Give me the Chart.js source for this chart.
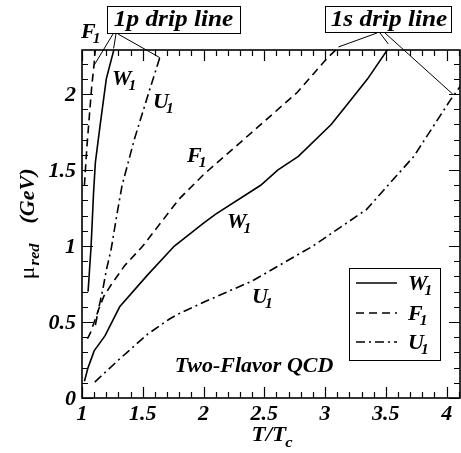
<!DOCTYPE html>
<html>
<head>
<meta charset="utf-8">
<style>
  body { margin: 0; background: #fff; }
  .plot-wrap { width: 461px; height: 453px; }
</style>
</head>
<body>
<div class="plot-wrap"><canvas id="mu-red" width="461" height="453"></canvas></div>

<script src="https://cdn.jsdelivr.net/npm/chart.js@4.4.0/dist/chart.umd.min.js"></script>
<script>
// mu_red (GeV) vs T/Tc, each channel has a low branch and a steep branch near Tc
var w1T      = [1.02, 1.05, 1.10, 1.19, 1.31, 1.54, 1.76, 2.00, 2.10, 2.47, 2.61, 2.78, 3.05, 3.20, 3.35, 3.52];
var w1Mu     = [0.11, 0.20, 0.31, 0.41, 0.60, 0.81, 1.00, 1.15, 1.21, 1.40, 1.50, 1.59, 1.80, 1.95, 2.10, 2.30];
var w1SteepT  = [1.05, 1.075, 1.095, 1.11, 1.15, 1.20, 1.265];
var w1SteepMu = [0.70, 1.00, 1.35, 1.55, 1.80, 2.10, 2.30];

var f1T      = [1.045, 1.07, 1.14, 1.18, 1.24, 1.35, 1.50, 1.80, 2.00, 2.40, 2.77, 3.01, 3.10];
var f1Mu     = [0.39, 0.43, 0.59, 0.67, 0.745, 0.87, 1.00, 1.31, 1.47, 1.75, 2.01, 2.23, 2.30];
var f1SteepT  = [1.02, 1.04, 1.06, 1.08, 1.10, 1.11];
var f1SteepMu = [1.40, 1.65, 1.85, 2.05, 2.20, 2.30];

var u1T      = [1.105, 1.30, 1.54, 1.72, 1.81, 2.00, 2.40, 2.90, 3.34, 3.73, 4.03, 4.12];
var u1Mu     = [0.105, 0.25, 0.42, 0.52, 0.56, 0.63, 0.77, 1.00, 1.24, 1.59, 1.96, 2.06];
var u1SteepT  = [1.11, 1.14, 1.17, 1.20, 1.24, 1.29, 1.33, 1.38, 1.43, 1.53, 1.64];
var u1SteepMu = [0.48, 0.60, 0.71, 0.84, 0.98, 1.22, 1.40, 1.55, 1.70, 1.96, 2.24];

var xTickLabels = [1, 1.5, 2, 2.5, 3, 3.5, 4];
var yTickLabels = [0, 0.5, 1, 1.5, 2];

function pts(xs, ys) {
  return xs.map(function (x, i) { return { x: x, y: ys[i] }; });
}

var SOLID = [], DASH = [8, 5], DASHDOT = [9, 4, 2, 4];

function series(label, xs, ys, dash) {
  return {
    label: label,
    data: pts(xs, ys),
    showLine: true,
    borderColor: '#000',
    borderWidth: 1.6,
    borderDash: dash,
    pointRadius: 0,
    tension: 0
  };
}

var FONT = "'Liberation Serif', 'Times New Roman', serif";
var SX = 1.1; // glyphs are drawn a little wide

// draw a run of text pieces, e.g. a letter followed by a lowered subscript
function textRun(ctx, parts, x, y, align) {
  var total = 0;
  parts.forEach(function (p) {
    ctx.font = (p.style || 'italic bold') + ' ' + p.size + 'px ' + FONT;
    p.w = ctx.measureText(p.t).width * SX + (p.dx || 0);
    total += p.w;
  });
  var cx = align === 'center' ? x - total / 2 : align === 'right' ? x - total : x;
  parts.forEach(function (p) {
    ctx.save();
    ctx.font = (p.style || 'italic bold') + ' ' + p.size + 'px ' + FONT;
    ctx.translate(cx + (p.dx || 0), y + (p.dy || 0));
    ctx.scale(SX, 1);
    ctx.fillText(p.t, 0, 0);
    ctx.restore();
    cx += p.w;
  });
}

function withSub(main, sub, size) {
  size = size || 20;
  return [{ t: main, size: size }, { t: sub, size: Math.round(size * 0.7), dy: 5, dx: -3 }];
}

var decorations = {
  id: 'decorations',
  afterDatasetsDraw: function (chart) {
    var ctx = chart.ctx, a = chart.chartArea;
    var xs = chart.scales.x, ys = chart.scales.y;
    ctx.save();
    ctx.strokeStyle = '#000';
    ctx.fillStyle = '#000';
    ctx.textBaseline = 'alphabetic';

    // frame
    ctx.lineWidth = 1.6;
    ctx.strokeRect(a.left, a.top, a.right - a.left, a.bottom - a.top);

    // inward ticks on all four sides
    ctx.lineWidth = 1.2;
    ctx.beginPath();
    for (var i = 10; i <= 41; i++) {
      var px = Math.round(xs.getPixelForValue(i / 10)) + 0.5;
      var len = i % 5 === 0 ? 11 : 6;
      ctx.moveTo(px, a.bottom); ctx.lineTo(px, a.bottom - len);
      ctx.moveTo(px, a.top); ctx.lineTo(px, a.top + len);
    }
    for (var j = 0; j <= 22; j++) {
      var py = Math.round(ys.getPixelForValue(j / 10)) + 0.5;
      var l2 = j % 5 === 0 ? 11 : 6;
      ctx.moveTo(a.left, py); ctx.lineTo(a.left + l2, py);
      ctx.moveTo(a.right, py); ctx.lineTo(a.right - l2, py);
    }
    ctx.stroke();

    // tick labels
    xTickLabels.forEach(function (v) {
      textRun(ctx, [{ t: String(v), size: 20 }], xs.getPixelForValue(v), 420, 'center');
    });
    yTickLabels.forEach(function (v) {
      textRun(ctx, [{ t: String(v), size: 20 }], 76, ys.getPixelForValue(v) + 7, 'right');
    });

    // axis titles
    textRun(ctx, [{ t: 'T/T', size: 21 }, { t: 'c', size: 15, dy: 6, dx: -1 }], 272, 441, 'center');
    ctx.save();
    ctx.translate(34, 224);
    ctx.rotate(-Math.PI / 2);
    textRun(ctx, [
      { t: '\u03bc', size: 22, style: 'normal' },
      { t: 'red', size: 15, dy: 5, dx: 1 },
      { t: '(GeV)', size: 20, dx: 20 }
    ], 0, 0, 'center');
    ctx.restore();

    // curve labels
    textRun(ctx, withSub('F', '1'), 81, 38);
    textRun(ctx, withSub('W', '1'), 112, 85);
    textRun(ctx, withSub('U', '1'), 153, 108);
    textRun(ctx, withSub('F', '1'), 187, 162);
    textRun(ctx, withSub('W', '1'), 227, 228);
    textRun(ctx, withSub('U', '1'), 252, 303);
    textRun(ctx, [{ t: 'Two-Flavor QCD', size: 20 }], 254, 372, 'center');

    // drip line call-outs
    ctx.lineWidth = 1;
    ctx.strokeRect(107.5, 6.5, 133, 27);
    ctx.strokeRect(325.5, 6.5, 126, 26);
    textRun(ctx, [{ t: '1p drip line', size: 23 }], 173.5, 26, 'center');
    textRun(ctx, [{ t: '1s drip line', size: 23 }], 389, 26, 'center');

    var pointers = [
      [113, 34, 1.10, 2.19], [116, 34, 1.26, 2.30], [118, 34, 1.64, 2.24],
      [377, 33, 3.11, 2.31], [380, 33, 3.52, 2.33], [385, 33, 4.05, 2.00]
    ];
    ctx.beginPath();
    pointers.forEach(function (p) {
      ctx.moveTo(p[0], p[1]);
      ctx.lineTo(xs.getPixelForValue(p[2]), ys.getPixelForValue(p[3]));
    });
    ctx.stroke();

    // legend
    ctx.strokeRect(349.5, 268.5, 91, 92);
    var entries = [['W', SOLID, 283], ['F', DASH, 313], ['U', DASHDOT, 342]];
    ctx.lineWidth = 1.6;
    entries.forEach(function (e) {
      ctx.setLineDash(e[1]);
      ctx.beginPath();
      ctx.moveTo(356, e[2]); ctx.lineTo(397, e[2]);
      ctx.stroke();
      ctx.setLineDash([]);
      textRun(ctx, withSub(e[0], '1'), 408, e[2] + 7);
    });

    ctx.restore();
  }
};

var chart = new Chart(document.getElementById('mu-red').getContext('2d'), {
  type: 'scatter',
  data: {
    datasets: [
      series('W1', w1T, w1Mu, SOLID),
      series('W1 steep', w1SteepT, w1SteepMu, SOLID),
      series('F1', f1T, f1Mu, DASH),
      series('F1 steep', f1SteepT, f1SteepMu, DASH),
      series('U1', u1T, u1Mu, DASHDOT),
      series('U1 steep', u1SteepT, u1SteepMu, DASHDOT)
    ]
  },
  options: {
    responsive: false,
    animation: false,
    layout: { padding: { top: 50, right: 1, left: 0, bottom: 0 } },
    plugins: { legend: { display: false }, tooltip: { enabled: false } },
    scales: {
      x: {
        type: 'linear', min: 1, max: 4.11,
        grid: { display: false }, border: { display: false },
        ticks: { display: false },
        afterFit: function (s) { s.height = 55; }
      },
      y: {
        type: 'linear', min: 0, max: 2.29,
        grid: { display: false }, border: { display: false },
        ticks: { display: false },
        afterFit: function (s) { s.width = 82; }
      }
    }
  },
  plugins: [decorations]
});
</script>
</body>
</html>
